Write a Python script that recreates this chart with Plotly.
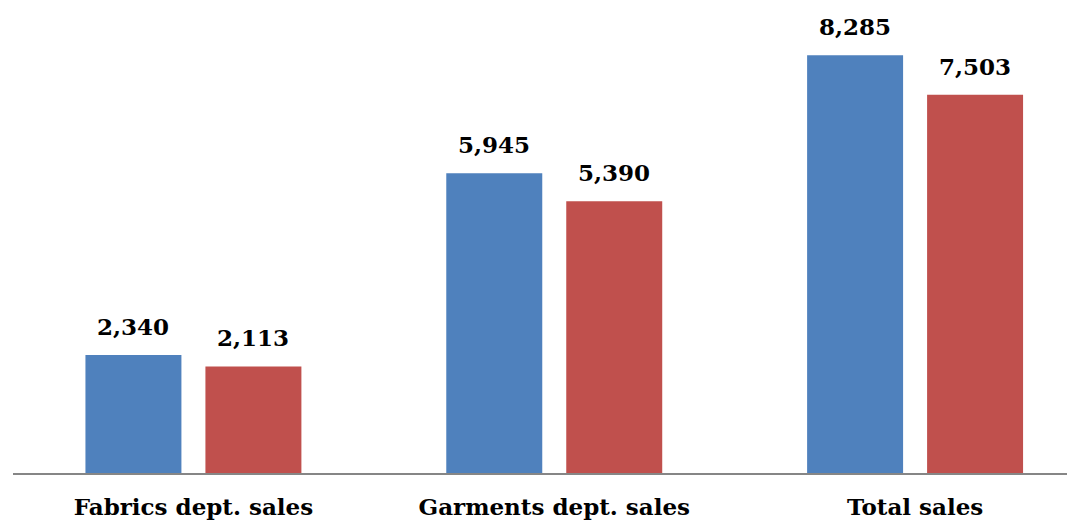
import plotly.graph_objects as go

categories = ["Fabrics dept. sales", "Garments dept. sales", "Total sales"]
series_a = [2340, 5945, 8285]
series_b = [2113, 5390, 7503]
colors = ["#4F81BD", "#C0504D"]

FONT = "DejaVu Serif"

fig = go.Figure()
for vals, col in zip([series_a, series_b], colors):
    fig.add_trace(go.Bar(
        x=categories, y=vals, marker=dict(color=col, line=dict(width=0)),
        showlegend=False,
    ))

offsets = [-60, 60]
for vals, off in zip([series_a, series_b], offsets):
    for c, v in zip(categories, vals):
        fig.add_annotation(
            x=c, y=v, text=f"<b>{v:,}</b>", showarrow=False,
            xshift=off, yshift=13, yanchor="bottom",
            font=dict(family=FONT, size=23, color="#000000"),
        )

fig.update_layout(
    width=1059, height=512,
    margin=dict(l=4.5, r=0, t=0, b=47),
    plot_bgcolor="white", paper_bgcolor="white",
    bargap=0.335, bargroupgap=0.2, barmode="group",
    xaxis=dict(
        range=[-0.5, 2.421], showline=True, linecolor="#868686", linewidth=2,
        ticks="", tickfont=dict(family=FONT, size=23, color="#000000"),
        ticklabelstandoff=12, automargin=False,
        tickvals=categories, ticktext=[f"<b>{c}</b>" for c in categories],
    ),
    yaxis=dict(range=[0, 9222], visible=False, showgrid=False, zeroline=False),
)

fig.write_html("out.html")
